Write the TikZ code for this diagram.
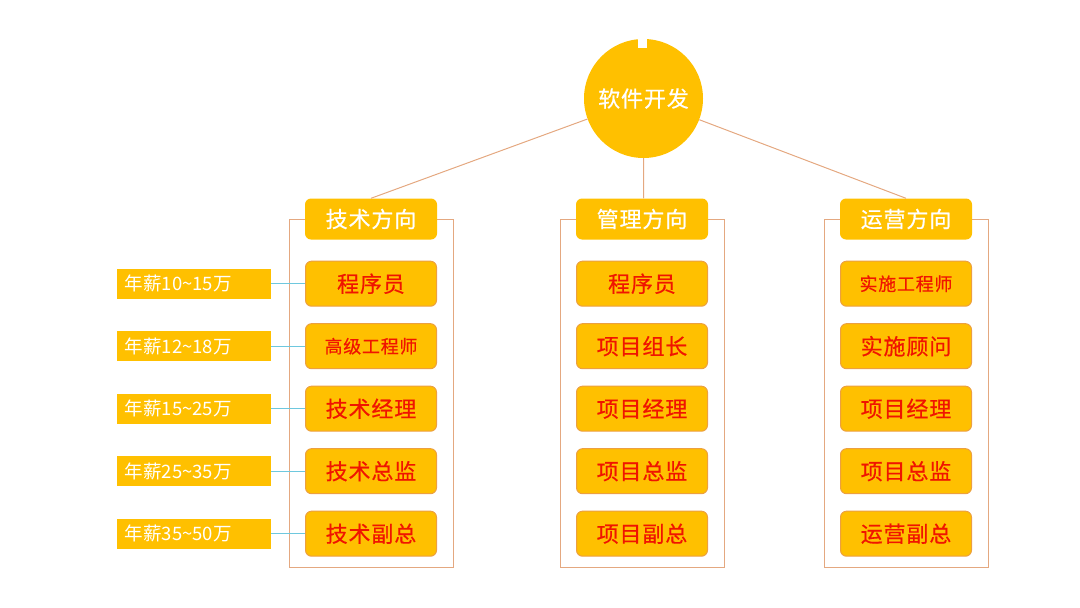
\documentclass[tikz,border=0pt]{standalone}
\usepackage{fontspec}
\setmainfont{Noto Sans CJK SC}
\newfontfamily\heavyfont[FakeBold=0.5,LetterSpace=4]{Noto Sans CJK SC}
\usetikzlibrary{positioning,calc,chains,scopes,backgrounds}

\definecolor{gold}{HTML}{FFC000}
\definecolor{jobline}{RGB}{236,160,64}
\definecolor{jobred}{RGB}{240,20,0}
\definecolor{frameline}{RGB}{228,168,128}
\definecolor{paylink}{RGB}{110,200,222}

\begin{document}
\begin{tikzpicture}[
  x=1pt, y=-1pt,
  node distance = 16.5pt and 34pt,
  head node/.style={
    fill=gold,
    rounded corners=6pt,
    inner sep=0pt,
    minimum width=132pt,
    minimum height=41pt,
    text=white,
    font=\heavyfont\fontsize{22}{22}\selectfont,
  },
  job node/.style={
    head node,
    draw=jobline,
    line width=1pt,
    minimum width=131pt,
    minimum height=45pt,
    text=jobred,
  },
  small job/.style={
    job node,
    font=\heavyfont\fontsize{18}{18}\selectfont,
  },
  pay node/.style={
    fill=gold,
    inner ysep=0pt,
    inner xsep=8pt,
    text width=138pt,
    minimum height=30pt,
    align=left,
    text=white,
    font=\fontsize{18.5}{18.5}\selectfont,
  },
  root node/.style={
    circle,
    fill=gold,
    inner sep=0pt,
    minimum size=119pt,
    text=white,
    font=\heavyfont\fontsize{22}{22}\selectfont,
  },
  frame line/.style={draw=frameline, line width=1pt},
  pay link/.style={draw=paylink, line width=1pt},
  ]
  \useasboundingbox (0,0) rectangle (1080,608);

  \node[root node] (root) at (643.5,98.5) {软件开发};
  \fill[white] (638,36) rectangle (647,47.5);

  \node[head node] (tech) at (371,219) {技术方向};
  \node[head node] (mgmt) at (642,219) {管理方向};
  \node[head node] (ops)  at (906,219) {运营方向};

  \begin{scope}[start chain=tc going below]
    \node[on chain=tc,job node,below=21pt of tech] (t1) {程序员};
    \node[on chain=tc,small job] (t2) {高级工程师};
    \node[on chain=tc,job node]  (t3) {技术经理};
    \node[on chain=tc,job node]  (t4) {技术总监};
    \node[on chain=tc,job node]  (t5) {技术副总};
  \end{scope}
  \begin{scope}[start chain=mc going below]
    \node[on chain=mc,job node,below=21pt of mgmt] (m1) {程序员};
    \node[on chain=mc,job node] (m2) {项目组长};
    \node[on chain=mc,job node] (m3) {项目经理};
    \node[on chain=mc,job node] (m4) {项目总监};
    \node[on chain=mc,job node] (m5) {项目副总};
  \end{scope}
  \begin{scope}[start chain=oc going below]
    \node[on chain=oc,small job,below=21pt of ops] (o1) {实施工程师};
    \node[on chain=oc,job node] (o2) {实施顾问};
    \node[on chain=oc,job node] (o3) {项目经理};
    \node[on chain=oc,job node] (o4) {项目总监};
    \node[on chain=oc,job node] (o5) {运营副总};
  \end{scope}

  \node[pay node,left=of t1] (p1) {年薪10\textasciitilde15万};
  \node[pay node,left=of t2] (p2) {年薪12\textasciitilde18万};
  \node[pay node,left=of t3] (p3) {年薪15\textasciitilde25万};
  \node[pay node,left=of t4] (p4) {年薪25\textasciitilde35万};
  \node[pay node,left=of t5] (p5) {年薪35\textasciitilde50万};

  \begin{scope}[on background layer]
    \draw[frame line] ($(tech)+(-82pt,0)$) rectangle ($(t5.south)+(82pt,-11pt)$);
    \draw[frame line] ($(mgmt)+(-82pt,0)$) rectangle ($(m5.south)+(82pt,-11pt)$);
    \draw[frame line] ($(ops)+(-82pt,0)$) rectangle ($(o5.south)+(82pt,-11pt)$);
  \end{scope}

  \path[frame line]
  (root) -- (tech.north)
  (root) -- (root |- mgmt.north)
  (root) -- (ops.north);

  \path[pay link]
  (p1) -- (t1)
  (p2) -- (t2)
  (p3) -- (t3)
  (p4) -- (t4)
  (p5) -- (t5);
\end{tikzpicture}
\end{document}
